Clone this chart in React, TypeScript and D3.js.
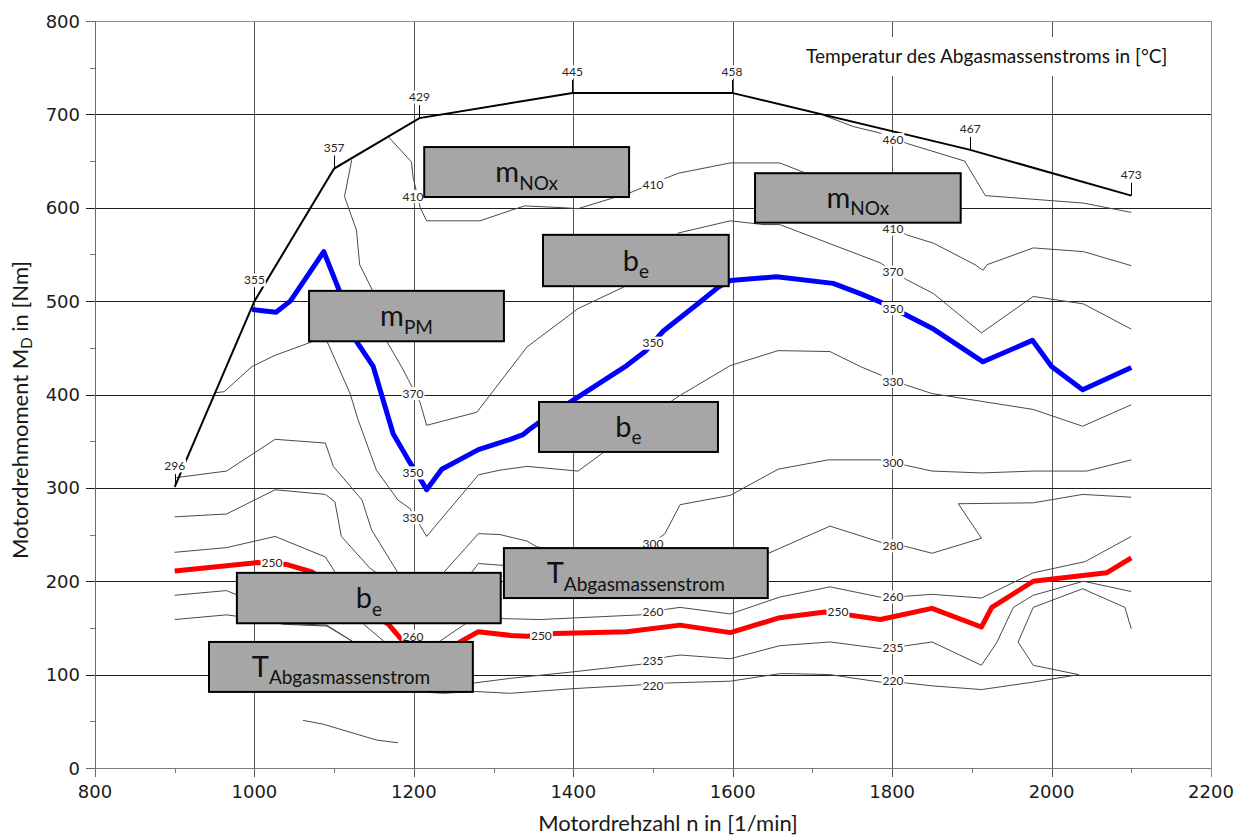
import React from "react";
import * as d3 from "d3";

type Pt = [number, number]; // [speed 1/min, torque Nm]

// Axis ticks
const speedTicks = [800, 1000, 1200, 1400, 1600, 1800, 2000, 2200];
const speedMinorTicks = [900, 1100, 1300, 1500, 1700, 1900, 2100];
const torqueTicks = [0, 100, 200, 300, 400, 500, 600, 700, 800];
const torqueMinorTicks = [50, 150, 250, 350, 450, 550, 650, 750];

// Full-load torque curve and exhaust temperature at each of its points
const fullLoadCurve: Pt[] = [
  [900, 301], [1000, 500], [1100, 642], [1207, 696], [1399, 723], [1599, 723], [1898, 662], [2100, 613],
];
const fullLoadTemps = [296, 355, 357, 429, 445, 458, 467, 473];

// Iso-temperature lines of the exhaust mass flow (°C)
const iso460: Pt[] = [
  [1714, 699], [1751, 687], [1785, 680], [1818, 669], [1891, 650], [1917, 613], [2040, 605], [2100, 595],
];
const iso410: Pt[] = [
  [1168, 676], [1197, 649], [1199, 633], [1208, 600], [1216, 586], [1283, 586], [1321, 597], [1339, 602],
  [1388, 600], [1406, 599], [1448, 610], [1471, 616], [1517, 632], [1532, 637], [1597, 648], [1659, 648],
  [1689, 638], [1818, 571], [1852, 562], [1904, 539], [1914, 533], [1919, 539], [1977, 557], [2040, 553],
  [2100, 538],
];
const iso370: Pt[] = [
  [1122, 651], [1113, 612], [1128, 576], [1132, 539], [1149, 510], [1166, 457], [1187, 426], [1193, 416],
  [1208, 391], [1216, 367], [1279, 381], [1342, 451], [1406, 492], [1463, 515], [1532, 573], [1597, 586],
  [1638, 582], [1659, 582], [1785, 541], [1818, 523], [1852, 508], [1912, 466], [1977, 505], [2040, 497],
  [2100, 470],
];
const iso350: Pt[] = [
  [997, 491], [1027, 488], [1045, 500], [1087, 553], [1107, 510], [1128, 457], [1149, 430], [1174, 358],
  [1193, 330], [1212, 304], [1216, 298], [1235, 320], [1281, 341], [1321, 352], [1337, 357], [1344, 362],
  [1357, 370], [1400, 394], [1467, 431], [1490, 446], [1513, 468], [1559, 499], [1582, 515], [1597, 522],
  [1655, 526], [1726, 519], [1760, 508], [1785, 499], [1820, 484], [1850, 471], [1914, 435], [1976, 458],
  [2000, 430], [2039, 405], [2100, 429],
];
const iso330: Pt[] = [
  [952, 402], [962, 403], [997, 430], [1026, 442], [1074, 457], [1082, 482], [1091, 457], [1120, 401],
  [1130, 373], [1153, 319], [1180, 287], [1195, 278], [1216, 248], [1281, 314], [1308, 319], [1342, 323],
  [1406, 318], [1438, 338], [1525, 394], [1534, 399], [1597, 431], [1657, 447], [1722, 446], [1760, 430],
  [1785, 421], [1818, 410], [1850, 401], [1977, 384], [2039, 366], [2100, 389],
];
const iso300: Pt[] = [
  [902, 311], [965, 318], [1026, 352], [1089, 348], [1099, 323], [1135, 287], [1147, 255], [1180, 209],
  [1208, 188], [1237, 209], [1281, 251], [1308, 250], [1342, 243], [1354, 237], [1434, 223], [1490, 235],
  [1515, 251], [1534, 282], [1597, 292], [1657, 320], [1720, 330], [1785, 330], [1818, 324], [1850, 318],
  [1912, 316], [1977, 318], [2044, 318], [2100, 330],
];
const iso280: Pt[] = [
  [900, 269], [965, 272], [1026, 298], [1089, 293], [1101, 285], [1109, 248], [1145, 214], [1208, 175],
  [1273, 210], [1281, 219], [1312, 217], [1484, 207], [1645, 230], [1722, 259], [1785, 242], [1818, 237],
  [1850, 230], [1912, 246], [1883, 283], [1977, 284], [2039, 293], [2100, 290],
];
const iso260: Pt[] = [
  [900, 231], [965, 236], [1026, 248], [1089, 226], [1101, 210], [1120, 180], [1137, 154], [1162, 136],
  [1199, 121], [1233, 136], [1264, 154], [1289, 167], [1310, 160], [1358, 159], [1484, 164], [1517, 170],
  [1534, 172], [1597, 165], [1659, 183], [1722, 194], [1785, 183], [1818, 184], [1850, 186], [1912, 182],
  [1977, 209], [2042, 221], [2100, 248],
];
const iso250: Pt[] = [
  [900, 211], [1003, 220], [1040, 218], [1072, 210], [1168, 154], [1183, 139], [1220, 110], [1258, 135],
  [1281, 146], [1321, 142], [1342, 141], [1377, 144], [1467, 146], [1534, 153], [1597, 145], [1659, 161],
  [1716, 167], [1745, 164], [1785, 159], [1850, 171], [1912, 151], [1925, 172], [1977, 200], [2069, 209],
  [2100, 225],
];
const iso235: Pt[] = [
  [900, 185], [965, 190], [1007, 175], [1036, 155], [1061, 154], [1091, 153], [1124, 135], [1208, 107],
  [1275, 91], [1321, 96], [1400, 103], [1484, 111], [1517, 119], [1534, 121], [1597, 117], [1659, 131],
  [1722, 135], [1785, 128], [1818, 131], [1850, 135], [1912, 110], [1931, 134], [1952, 172], [1977, 185],
  [2040, 200], [2100, 189],
];
const iso220: Pt[] = [
  [900, 159], [965, 164], [1001, 160], [1036, 154], [1061, 153], [1091, 152], [1124, 135], [1183, 105],
  [1218, 81], [1237, 80], [1275, 82], [1321, 80], [1400, 85], [1484, 89], [1517, 91], [1597, 93],
  [1659, 101], [1676, 101], [1722, 100], [1785, 92], [1818, 91], [1850, 88], [1912, 84], [1977, 92],
  [2034, 100], [1977, 110], [1958, 135], [1977, 172], [2039, 192], [2092, 172], [2100, 149],
];
const isoLowIsland: Pt[] = [[1061, 51], [1086, 47], [1153, 30], [1180, 27]];

const thinIsolines: Pt[][] = [iso460, iso410, iso370, iso330, iso300, iso280, iso260, iso235, iso220, isoLowIsland];

// Inline level labels: [speed, torque, level]
const isoLabels: [number, number, number][] = [
  [1199, 612, 410], [1500, 625, 410], [1801, 673, 460], [1801, 577, 410], [1801, 531, 370],
  [1801, 492, 350], [1801, 414, 330], [1801, 327, 300], [1801, 238, 280], [1801, 183, 260],
  [1732, 167, 250], [1801, 129, 235], [1801, 93, 220], [1199, 401, 370], [1199, 316, 350],
  [1199, 268, 330], [1500, 455, 350], [1500, 240, 300], [1500, 167, 260], [1360, 142, 250],
  [1500, 115, 235], [1500, 88, 220], [1022, 220, 250], [1199, 141, 260],
];

// Annotation boxes (corner extents in speed / torque)
const annotations = [
  { main: "m", sub: "NOx", s0: 1213, s1: 1470, t0: 611.5, t1: 665 },
  { main: "m", sub: "NOx", s0: 1628, s1: 1886, t0: 584, t1: 637 },
  { main: "b", sub: "e", s0: 1362, s1: 1595, t0: 516, t1: 571 },
  { main: "m", sub: "PM", s0: 1068.5, s1: 1313, t0: 457, t1: 511 },
  { main: "b", sub: "e", s0: 1357, s1: 1581.5, t0: 338.5, t1: 392 },
  { main: "T", sub: "Abgasmassenstrom", s0: 1313, s1: 1644, t0: 182, t1: 235.5 },
  { main: "b", sub: "e", s0: 978, s1: 1309, t0: 155, t1: 209 },
  { main: "T", sub: "Abgasmassenstrom", s0: 943, s1: 1274, t0: 81.5, t1: 135 },
];

const SANS = "Lato, 'Open Sans', sans-serif";
const TICK_FONT = "'DejaVu Sans', Verdana, sans-serif";

export default function App() {
  const x = d3.scaleLinear().domain([800, 2200]).range([95, 1211]);
  const y = d3.scaleLinear().domain([0, 800]).range([768, 21]);
  const line = d3.line<Pt>().x((d) => x(d[0])).y((d) => y(d[1]));
  const [left, right] = x.range();
  const [bottom, top] = y.range();
  const px = (v: number) => Math.round(x(v)) + 0.5;
  const py = (v: number) => Math.round(y(v)) + 0.5;

  const labelBox = (cx: number, cy: number, text: string, key: string) => {
    const w = text.length * 6.6 + 3;
    return (
      <g key={key}>
        <rect x={cx - w / 2} y={cy - 6.5} width={w} height={13} fill="#fff" />
        <text x={cx} y={cy + 4.2} textAnchor="middle" fontFamily={SANS} fontSize={12} fill="#2a2420">
          {text}
        </text>
      </g>
    );
  };

  return (
    <svg
      width={1247}
      height={838}
      style={{ position: "absolute", left: 0, top: 0, display: "block", background: "#fff" }}
    >
      <rect width={1247} height={838} fill="#fff" />

      {/* grid */}
      {speedTicks.slice(1, -1).map((v) => (
        <line key={"gx" + v} x1={px(v)} x2={px(v)} y1={top} y2={bottom + 9} stroke="#555" strokeWidth={1} />
      ))}
      {torqueTicks.slice(1, -1).map((v) => (
        <line key={"gy" + v} x1={left - 9} x2={right} y1={py(v)} y2={py(v)} stroke="#1e1e1e" strokeWidth={1} />
      ))}

      {/* frame */}
      <line x1={left} x2={right} y1={py(800)} y2={py(800)} stroke="#8c8c8c" />
      <line x1={px(2200)} x2={px(2200)} y1={top} y2={bottom + 9} stroke="#8c8c8c" />
      <line x1={left} x2={right} y1={py(0)} y2={py(0)} stroke="#7a7a7a" />
      <line x1={px(800)} x2={px(800)} y1={top} y2={bottom + 9} stroke="#6a6a6a" />
      <line x1={left - 9} x2={left} y1={py(800)} y2={py(800)} stroke="#6a6a6a" />
      <line x1={left - 9} x2={left} y1={py(0)} y2={py(0)} stroke="#6a6a6a" />

      {/* minor ticks */}
      {speedMinorTicks.map((v) => (
        <line key={"mx" + v} x1={px(v)} x2={px(v)} y1={bottom} y2={bottom + 5} stroke="#777" />
      ))}
      {torqueMinorTicks.map((v) => (
        <line key={"my" + v} x1={left - 5} x2={left} y1={py(v)} y2={py(v)} stroke="#777" />
      ))}

      {/* tick labels */}
      {speedTicks.map((v) => (
        <text key={"tx" + v} x={x(v)} y={798} textAnchor="middle" fontFamily={TICK_FONT} fontSize={18} fill="#1a1a1a">
          {v}
        </text>
      ))}
      {torqueTicks.map((v) => (
        <text key={"ty" + v} x={80} y={y(v) + 6.5} textAnchor="end" fontFamily={TICK_FONT} fontSize={18} fill="#1a1a1a">
          {v}
        </text>
      ))}

      {/* axis titles */}
      <text x={668} y={831} textAnchor="middle" fontFamily={SANS} fontSize={22} fill="#1a1a1a">
        Motordrehzahl n in [1/min]
      </text>
      <text
        transform="translate(28,410) rotate(-90)"
        textAnchor="middle"
        fontFamily={SANS}
        fontSize={22}
        fill="#1a1a1a"
      >
        Motordrehmoment M
        <tspan fontSize={15} dy={4}>D</tspan>
        <tspan dy={-4}> in [Nm]</tspan>
      </text>

      {/* thin isotherms */}
      {thinIsolines.map((pts, i) => (
        <path key={"iso" + i} d={line(pts) ?? ""} fill="none" stroke="#4a4a4a" strokeWidth={1} strokeLinejoin="round" />
      ))}

      {/* highlighted isotherms */}
      <path d={line(iso250) ?? ""} fill="none" stroke="#ff0000" strokeWidth={5} strokeLinejoin="round" />
      <path d={line(iso350) ?? ""} fill="none" stroke="#0000ff" strokeWidth={5} strokeLinejoin="round" />

      {/* full-load curve */}
      <path d={line(fullLoadCurve) ?? ""} fill="none" stroke="#000" strokeWidth={2} strokeLinejoin="miter" />
      {fullLoadCurve.map((d, i) => {
        const cx = x(d[0]);
        const cy = y(d[1]);
        return (
          <g key={"fl" + i}>
            <line x1={Math.round(cx) + 0.5} x2={Math.round(cx) + 0.5} y1={cy} y2={cy - 13} stroke="#000" strokeWidth={1} />
            {labelBox(cx, cy - 21, String(fullLoadTemps[i]), "fll" + i)}
          </g>
        );
      })}

      {/* isotherm labels */}
      {isoLabels.map(([s, t, lvl], i) => labelBox(x(s), y(t), String(lvl), "il" + i))}

      {/* annotation boxes */}
      {annotations.map((a, i) => {
        const bx0 = x(a.s0);
        const bx1 = x(a.s1);
        const by0 = y(a.t1);
        const by1 = y(a.t0);
        const cx = (bx0 + bx1) / 2;
        const cy = (by0 + by1) / 2;
        return (
          <g key={"ann" + i}>
            <rect x={bx0} y={by0} width={bx1 - bx0} height={by1 - by0} fill="#a6a6a6" stroke="#000" strokeWidth={2} />
            <text x={cx} y={cy + 10} textAnchor="middle" fontFamily={SANS} fill="#111">
              <tspan fontSize={29}>{a.main}</tspan>
              <tspan fontSize={19} dy={7.5}>{a.sub}</tspan>
            </text>
          </g>
        );
      })}

      {/* legend caption */}
      <rect x={795} y={37} width={385} height={39} fill="#fff" />
      <text x={806} y={63} fontFamily={SANS} fontSize={19.1} fill="#111">
        Temperatur des Abgasmassenstroms in [°C]
      </text>
    </svg>
  );
}
